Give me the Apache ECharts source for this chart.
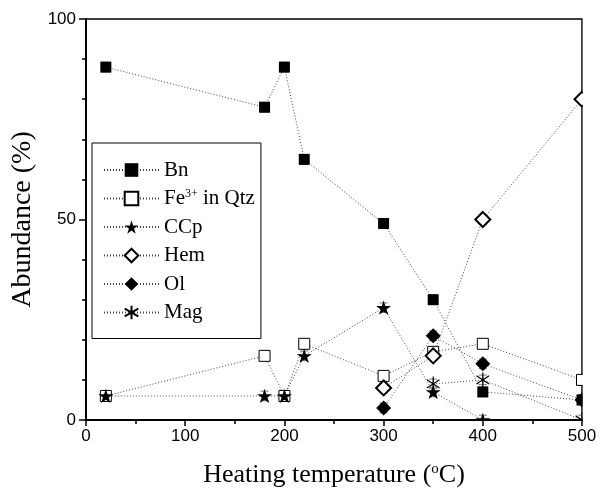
<!DOCTYPE html>
<html>
<head>
<meta charset="utf-8">
<script src="https://cdn.jsdelivr.net/npm/echarts@6/dist/echarts.min.js"></script>
<style>
  html, body { margin: 0; padding: 0; background: #fff; }
  #chart { width: 609px; height: 493px; }
</style>
</head>
<body>
<div id="chart"></div>
<script>
// 数据 (x: 加热温度, y: 丰度 %)
const bnData = [[20, 88], [180, 78], [200, 88], [220, 65], [300, 49], [350, 30], [400, 7], [500, 5]];
const fe3Data = [[20, 6], [180, 16], [200, 6], [220, 19], [300, 11], [350, 17], [400, 19], [500, 10]];
const ccpData = [[20, 6], [180, 6], [200, 6], [220, 16], [300, 28], [350, 7], [400, 0]];
const hemData = [[300, 8], [350, 16], [400, 50], [500, 80]];
const olData = [[300, 3], [350, 21], [400, 14], [500, 5]];
const magData = [[350, 9], [400, 10], [500, 0]];
const errBar = 1.2;
const xTicks = [0, 100, 200, 300, 400, 500];
const yTicks = [0, 50, 100];

const starPath = 'path://M50 0 L61.2 34.55 L97.55 34.55 L68.2 55.9 L79.4 90.45 L50 69.1 L20.6 90.45 L31.8 55.9 L2.45 34.55 L38.8 34.55 Z';
const asteriskPath = 'path://M50 0 L50 100 M8 22 L92 78 M92 22 L8 78';

const serif = '"Liberation Serif", "Times New Roman", serif';
const sans = '"Liberation Sans", Arial, sans-serif';

const lineStyle = { type: [1, 2], color: '#444', width: 1 };

function mkSeries(name, data, symbol, size, fill, stroke, bw) {
  return {
    name: name,
    type: 'line',
    data: data,
    symbol: symbol,
    symbolSize: size,
    symbolKeepAspect: true,
    showAllSymbol: true,
    clip: true,
    lineStyle: lineStyle,
    itemStyle: { color: fill, borderColor: stroke, borderWidth: bw },
    emphasis: { disabled: true },
    z: 3
  };
}

// 误差棒
function errSeries(data) {
  return {
    type: 'custom',
    silent: true,
    z: 2,
    data: data,
    renderItem: function (params, api) {
      const x = api.value(0), y = api.value(1);
      const top = api.coord([x, y + errBar]);
      const bot = api.coord([x, y - errBar]);
      const st = { stroke: '#777', lineWidth: 1 };
      return {
        type: 'group',
        children: [
          { type: 'line', shape: { x1: top[0], y1: top[1], x2: bot[0], y2: bot[1] }, style: st },
          { type: 'line', shape: { x1: top[0] - 4, y1: top[1], x2: top[0] + 4, y2: top[1] }, style: st },
          { type: 'line', shape: { x1: bot[0] - 4, y1: bot[1], x2: bot[0] + 4, y2: bot[1] }, style: st }
        ]
      };
    }
  };
}

const allData = [bnData, fe3Data, ccpData, hemData, olData, magData];

const option = {
  animation: false,
  backgroundColor: '#fff',
  grid: {
    left: 86, right: 27, top: 19, bottom: 72,
    show: true, borderColor: '#000', borderWidth: 1.5, backgroundColor: 'transparent'
  },
  legend: {
    orient: 'vertical',
    left: 92, top: 143,
    padding: [16, 6, 15, 11],
    itemGap: 6.5,
    itemWidth: 55,
    itemHeight: 17,
    borderColor: '#000',
    borderWidth: 1,
    backgroundColor: '#fff',
    z: 20,
    data: ['Bn', 'Fe3+ in Qtz', 'CCp', 'Hem', 'Ol', 'Mag'],
    formatter: function (n) {
      if (n === 'Fe3+ in Qtz') return 'Fe{sup|3+} in Qtz';
      return n;
    },
    textStyle: {
      fontFamily: serif, fontSize: 21, color: '#000', lineHeight: 22,
      rich: { sup: { fontFamily: serif, fontSize: 12, verticalAlign: 'top', lineHeight: 14, padding: [0, 0, 8, 0] } }
    }
  },
  xAxis: {
    type: 'value',
    z: 10,
    min: 0, max: 500, interval: 100,
    name: 'Heating temperature ({sup|o}C)',
    nameLocation: 'middle',
    nameGap: 42,
    nameTextStyle: {
      fontFamily: serif, fontSize: 26, color: '#000',
      rich: { sup: { fontFamily: serif, fontSize: 15, verticalAlign: 'top', padding: [0, 0, 11, 0] } }
    },
    axisLine: { show: true, lineStyle: { color: '#000', width: 2 } },
    axisTick: { show: true, length: 6, lineStyle: { color: '#000', width: 1.5 } },
    minorTick: { show: true, splitNumber: 2, length: 4, lineStyle: { color: '#000', width: 1.5 } },
    axisLabel: {
      fontFamily: sans, fontSize: 17, color: '#000', margin: 8,
      formatter: function (v) { return xTicks.indexOf(v) >= 0 ? String(v) : ''; }
    },
    splitLine: { show: false }
  },
  yAxis: {
    type: 'value',
    z: 10,
    min: 0, max: 100, interval: 50,
    name: 'Abundance (%)',
    nameLocation: 'middle',
    nameGap: 48,
    nameTextStyle: { fontFamily: serif, fontSize: 28, color: '#000' },
    axisLine: { show: true, lineStyle: { color: '#000', width: 2 } },
    axisTick: { show: true, length: 7, lineStyle: { color: '#000', width: 1.5 } },
    minorTick: { show: true, splitNumber: 5, length: 4, lineStyle: { color: '#000', width: 1.5 } },
    axisLabel: {
      fontFamily: sans, fontSize: 17, color: '#000', margin: 10,
      formatter: function (v) { return yTicks.indexOf(v) >= 0 ? String(v) : ''; }
    },
    splitLine: { show: false }
  },
  series: [
    mkSeries('Bn', bnData, 'rect', 11, '#000', '#000', 0),
    mkSeries('Fe3+ in Qtz', fe3Data, 'rect', 11, '#fff', '#000', 1),
    mkSeries('CCp', ccpData, starPath, 15, '#000', '#000', 0),
    mkSeries('Hem', hemData, 'diamond', 15, '#fff', '#000', 2),
    mkSeries('Ol', olData, 'diamond', 15, '#000', '#000', 0),
    mkSeries('Mag', magData, asteriskPath, 15, 'none', '#000', 1.2)
  ].concat(allData.map(errSeries))
};

const chart = echarts.init(document.getElementById('chart'));
chart.setOption(option);

// 坐标区外的标记裁掉（白色遮罩，坐标轴画在其上）
const pMax = chart.convertToPixel({ gridIndex: 0 }, [500, 0]);
chart.setOption({
  graphic: [
    { type: 'rect', z: 5, silent: true, shape: { x: pMax[0] + 0.8, y: 0, width: 609, height: 493 }, style: { fill: '#fff' } },
    { type: 'rect', z: 5, silent: true, shape: { x: 0, y: pMax[1] + 0.8, width: 609, height: 493 }, style: { fill: '#fff' } }
  ]
});

window.addEventListener('resize', function () {
  chart.resize();
});
</script>
</body>
</html>
